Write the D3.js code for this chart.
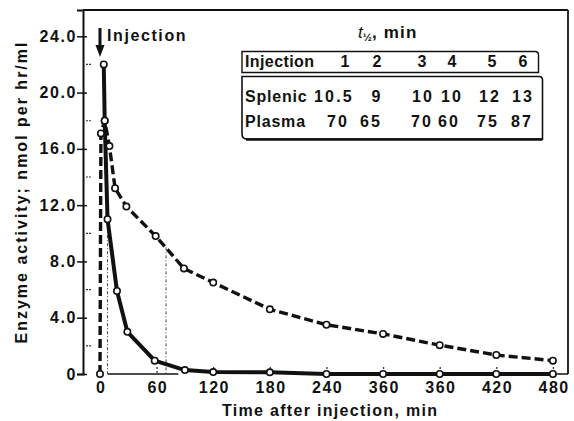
<!DOCTYPE html>
<html>
<head>
<meta charset="utf-8">
<script src="https://cdn.jsdelivr.net/npm/d3@7"></script>
<style>
  html, body { margin: 0; padding: 0; background: #fff; }
  svg { display: block; }
  text { font-family: "Liberation Sans", Arial, sans-serif; font-weight: bold; fill: #111; }
</style>
</head>
<body>
<svg id="chart" width="574" height="421"></svg>
<script>
// ---- data ----
const plasmaTimes  = [0, 1, 5, 10, 16, 28, 59, 89, 120, 180, 240, 300, 360, 420, 480];
const plasmaValues = [0, 17.1, 18.0, 16.2, 13.2, 11.9, 9.8, 7.5, 6.5, 4.6, 3.5, 2.85, 2.05, 1.35, 0.95];
const splenicTimes  = [4, 5, 8, 18, 29, 58, 90, 120, 180, 240, 300, 360, 420, 480];
const splenicValues = [22.0, 18.0, 11.0, 5.9, 3.0, 0.95, 0.28, 0.14, 0.12, 0, 0, 0, 0, 0];
const xTickValues = [0, 60, 120, 180, 240, 300, 360, 420, 480];
const xTickLabels = ["0", "60", "120", "180", "240", "360", "360", "420", "480"];
const yTickValues = [0, 4, 8, 12, 16, 20, 24];
const yTickLabels = ["0", "4.0", "8.0", "12.0", "16.0", "20.0", "24.0"];
const yMinorTicks = [2, 6, 10, 14, 18, 22];
const halfLifeMarks = [{t: 8, v: 11.0}, {t: 70, v: 9.0}];
const tableInjections = ["1", "2", "3", "4", "5", "6"];
const tableSplenic = ["10.5", "9", "10", "10", "12", "13"];
const tablePlasma = ["70", "65", "70", "60", "75", "87"];

// ---- layout ----
const svg = d3.select("#chart");
const x = d3.scaleLinear().domain([-18, 496]).range([83, 568]);
const y = d3.scaleLinear().domain([0, 25.87]).range([374, 10]);
const pTop = 10, pBottom = 374, pLeft = 83, pRight = 568;

// frame: top and right lines
svg.append("line").attr("x1", pLeft).attr("x2", pRight).attr("y1", pTop).attr("y2", pTop)
  .attr("stroke", "#111").attr("stroke-width", 2);
svg.append("line").attr("x1", pRight).attr("x2", pRight).attr("y1", pTop).attr("y2", pBottom)
  .attr("stroke", "#111").attr("stroke-width", 1.8);
// bottom partial lines
svg.append("line").attr("x1", x(480)).attr("x2", pRight).attr("y1", pBottom).attr("y2", pBottom)
  .attr("stroke", "#111").attr("stroke-width", 1.5);
svg.append("line").attr("x1", x(8)).attr("x2", x(83)).attr("y1", pBottom).attr("y2", pBottom)
  .attr("stroke", "#111").attr("stroke-width", 1.5);

// y axis
const yAxis = svg.append("g").attr("transform", `translate(${pLeft},0)`)
  .call(d3.axisLeft(y).tickValues(yTickValues).tickSize(6).tickPadding(0)
    .tickFormat((d, i) => yTickLabels[i]));
yAxis.select(".domain").attr("stroke", "#111").attr("stroke-width", 2);
yAxis.selectAll(".tick line").attr("stroke", "#111").attr("stroke-width", 1.5);
yAxis.selectAll(".tick text").attr("font-size", 16).attr("letter-spacing", "1.6px")
  .attr("font-family", "Liberation Sans, Arial, sans-serif").attr("font-weight", "bold").attr("fill", "#111");
// inner part of major ticks
svg.append("g").attr("transform", `translate(${pLeft},0)`)
  .call(d3.axisRight(y).tickValues(yTickValues).tickSize(4).tickFormat(""))
  .call(g => g.select(".domain").remove())
  .selectAll(".tick line").attr("stroke", "#111").attr("stroke-width", 1.5);
// minor ticks
svg.append("g").selectAll("line").data(yMinorTicks).join("line")
  .attr("x1", pLeft + 3).attr("x2", pLeft + 8)
  .attr("y1", d => y(d)).attr("y2", d => y(d))
  .attr("stroke", "#333").attr("stroke-width", 1.2).attr("stroke-dasharray", "2,1");

// x axis
const xAxis = svg.append("g").attr("transform", `translate(0,${pBottom})`)
  .call(d3.axisBottom(x).tickValues(xTickValues).tickSizeInner(-8).tickSizeOuter(0).tickPadding(8)
    .tickFormat((d, i) => xTickLabels[i]));
xAxis.select(".domain").remove();
xAxis.selectAll(".tick line").attr("stroke", "#333").attr("stroke-width", 1.3)
  .attr("stroke-dasharray", "2,2").attr("transform", "translate(0,-1)");
xAxis.selectAll(".tick text").attr("font-size", 16).attr("letter-spacing", "1.5px")
  .attr("font-family", "Liberation Sans, Arial, sans-serif").attr("font-weight", "bold").attr("fill", "#111")
  .attr("dx", "0.7px");

// half-life dotted guides
svg.append("g").selectAll("line").data(halfLifeMarks).join("line")
  .attr("x1", d => x(d.t)).attr("x2", d => x(d.t))
  .attr("y1", d => y(d.v)).attr("y2", pBottom)
  .attr("stroke", "#444").attr("stroke-width", 1).attr("stroke-dasharray", "3,2,1,2");

// lines
const plasmaData = plasmaTimes.map((t, i) => ({t, v: plasmaValues[i]}));
const splenicData = splenicTimes.map((t, i) => ({t, v: splenicValues[i]}));
const line = d3.line().x(d => x(d.t)).y(d => y(d.v));

svg.append("path").datum(plasmaData).attr("d", line)
  .attr("fill", "none").attr("stroke", "#111").attr("stroke-width", 3.4)
  .attr("stroke-dasharray", "9,4");
svg.append("path").datum(splenicData).attr("d", line)
  .attr("fill", "none").attr("stroke", "#111").attr("stroke-width", 4)
  .attr("stroke-linejoin", "round");

// markers
[plasmaData, splenicData].forEach(data => {
  svg.append("g").selectAll("circle").data(data).join("circle")
    .attr("cx", d => x(d.t)).attr("cy", d => y(d.v)).attr("r", 3.2)
    .attr("fill", "#fff").attr("stroke", "#111").attr("stroke-width", 1.6);
});

// injection arrow
const ax = x(0);
svg.append("line").attr("x1", ax).attr("x2", ax).attr("y1", 28).attr("y2", 47)
  .attr("stroke", "#111").attr("stroke-width", 3);
svg.append("path")
  .attr("d", `M${ax - 4.5},45 L${ax + 4.5},45 L${ax},57 Z`).attr("fill", "#111");
svg.append("text").attr("x", ax + 7).attr("y", 41).attr("font-size", 16)
  .attr("letter-spacing", "1.6px").text("Injection");

// axis titles
svg.append("text").attr("x", 222).attr("y", 416).attr("font-size", 16)
  .attr("letter-spacing", "1.3px").text("Time after injection, min");
svg.append("text").attr("transform", "translate(27,192) rotate(-90)")
  .attr("text-anchor", "middle").attr("font-size", 16)
  .attr("letter-spacing", "2px").text("Enzyme activity; nmol per hr/ml");

// table
const tbl = svg.append("g");
const th = tbl.append("text").attr("x", 358).attr("y", 38).attr("font-size", 17);
th.append("tspan").attr("font-style", "italic").attr("font-weight", "normal").text("t");
th.append("tspan").attr("font-size", 11).attr("dy", 3).text("½");
th.append("tspan").attr("dy", -3).attr("letter-spacing", "1.2px").text(", min");

tbl.append("path")
  .attr("d", "M242,72.5 L242,51.5 L535,51.5 Q538.5,51.5 538.5,55 L538.5,72.5 Z")
  .attr("fill", "none").attr("stroke", "#111").attr("stroke-width", 1.4);
tbl.append("path")
  .attr("d", "M242,76.5 L539,76.5 Q542.5,76.5 542.5,80 L542.5,139 L247,139 Q242,139 242,134 Z")
  .attr("fill", "none").attr("stroke", "#111").attr("stroke-width", 1.6);
tbl.append("line").attr("x1", 246).attr("x2", 542.5).attr("y1", 139.5).attr("y2", 139.5)
  .attr("stroke", "#111").attr("stroke-width", 2.6);

const rowFont = 16;
tbl.append("text").attr("x", 245).attr("y", 67).attr("font-size", rowFont)
  .attr("letter-spacing", "0.4px").text("Injection");
tbl.append("text").attr("x", 245).attr("y", 101.5).attr("font-size", rowFont)
  .attr("letter-spacing", "0.8px").text("Splenic");
tbl.append("text").attr("x", 245).attr("y", 127).attr("font-size", rowFont)
  .attr("letter-spacing", "0.8px").text("Plasma");

const colHead = [346, 378, 423, 453, 493, 524];
const colSpl = [334, 377, 423, 452, 490, 523];
const colPla = [338, 371, 422, 449, 488, 522];
const rows = [
  {vals: tableInjections, xs: colHead, yb: 67},
  {vals: tableSplenic, xs: colSpl, yb: 101.5},
  {vals: tablePlasma, xs: colPla, yb: 127}
];
rows.forEach(r => {
  tbl.append("g").selectAll("text").data(r.vals).join("text")
    .attr("x", (d, i) => r.xs[i]).attr("y", r.yb).attr("text-anchor", "middle")
    .attr("font-size", rowFont).attr("letter-spacing", "2.2px").text(d => d);
});
</script>
</body>
</html>
